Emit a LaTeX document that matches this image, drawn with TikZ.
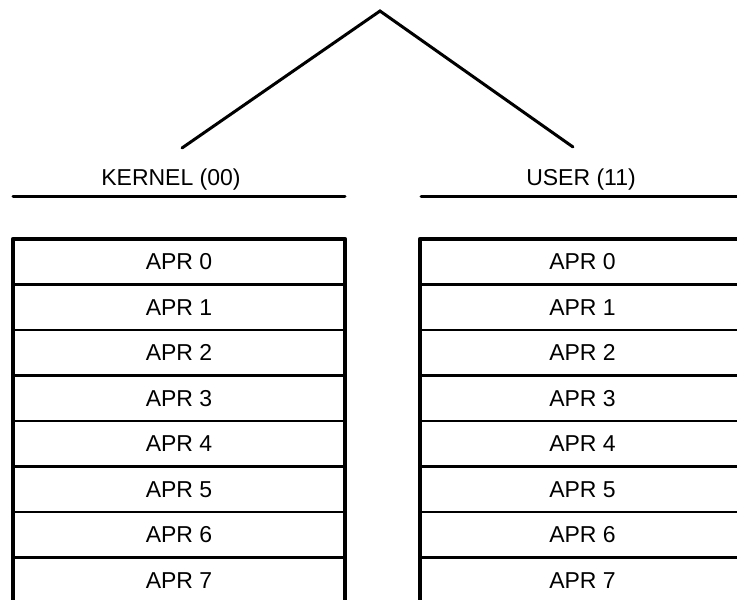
\documentclass[tikz,border=0pt]{standalone}
\usepackage{fontspec}
\setmainfont{Liberation Sans}
\usetikzlibrary{positioning}

\begin{document}
\begin{tikzpicture}[x=1pt,y=1pt,font=\fontsize{23}{27}\selectfont,
 kbox/.style={draw,line width=2.5pt,minimum width=332pt,minimum height=45.5pt,inner sep=0pt,outer sep=0pt},
 ubox/.style={kbox,minimum width=325pt},
 frame/.style={line width=4.5pt,line join=round},
 rule/.style={line width=3pt,line cap=round},
 tree/.style={line width=3pt,line cap=round}]
\useasboundingbox (0,0) rectangle (737,-600);
\clip (0,0) rectangle (737,-600);
% mode split
\coordinate (apex) at (380,-11);
\coordinate (kfoot) at (182,-148);
\coordinate (ufoot) at (573,-147);
\draw[tree] (kfoot) -- (apex) -- (ufoot);
\node[anchor=base] (kernel) at (171,-185) {KERNEL (00)};
\node[anchor=base] (user) at (581,-185) {USER (11)};
\coordinate (krl) at (13,-196); \coordinate (krr) at (345,-196);
\coordinate (url) at (421,-196); \coordinate (urr) at (745,-196);
\draw[rule] (krl) -- (krr);
\draw[rule] (url) -- (urr);
% register sets
\node[kbox] (k0) at (179,-261.75) {APR 0};
\node[ubox] (u0) at (582.5,-261.75) {APR 0};
\foreach \i [count=\j from 0] in {1,...,7}{
  \node[kbox,below=0pt of k\j] (k\i) {APR \i};
  \node[ubox,below=0pt of u\j] (u\i) {APR \i};}
\draw[frame] (k7.south west) |- (k0.north east) -- (k7.south east);
\draw[frame] (u7.south west) |- (u0.north east) -- (u7.south east);
\end{tikzpicture}
\end{document}
